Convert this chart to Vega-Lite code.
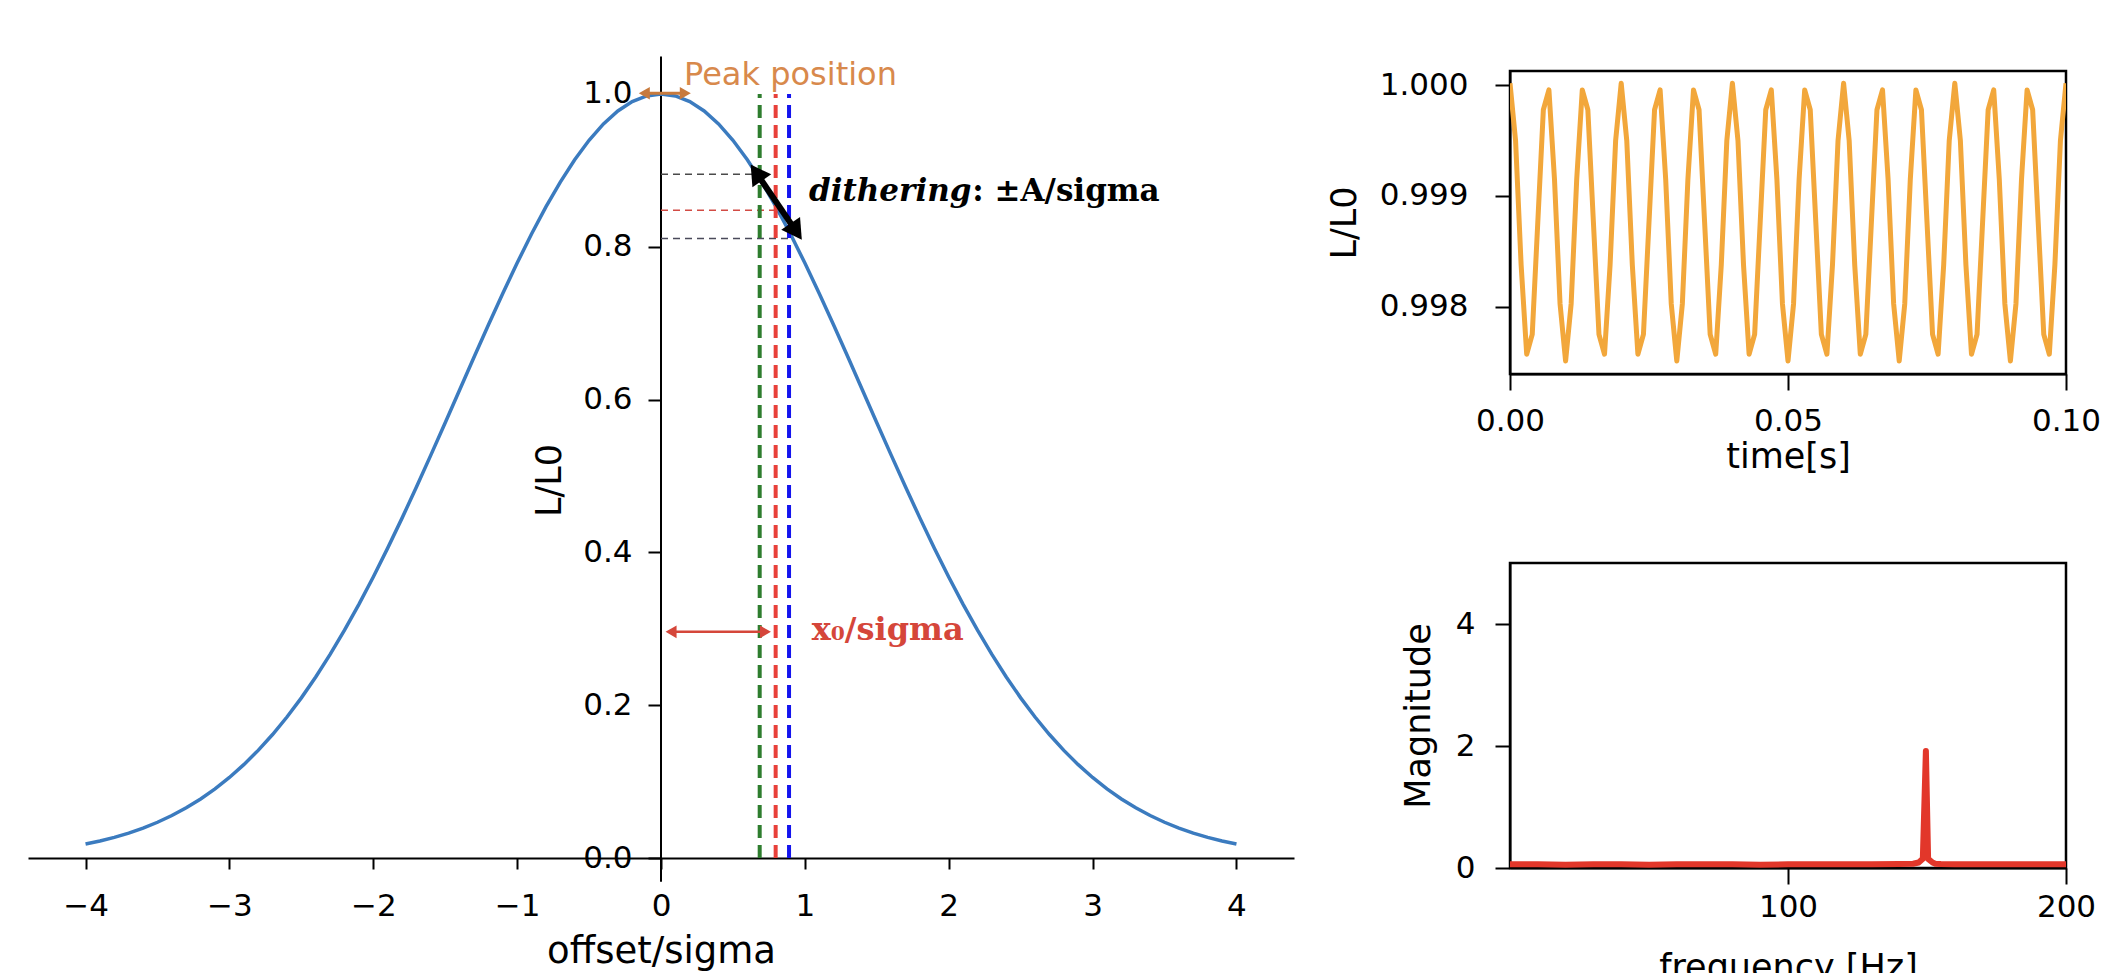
{
  "$schema": "https://vega.github.io/schema/vega-lite/v6.json",
  "background": "white",
  "padding": {"left": 28, "top": 55, "right": 5, "bottom": 5},
  "config": {
    "font": "DejaVu Sans",
    "view": {"stroke": "black", "strokeWidth": 2.5},
    "axis": {
      "grid": false,
      "domainColor": "black",
      "domainWidth": 2,
      "tickColor": "black",
      "tickWidth": 2,
      "tickSize": 11,
      "labelColor": "black",
      "labelFont": "DejaVu Sans",
      "labelFontSize": 31,
      "labelPadding": 12,
      "labelFlush": false,
      "labelOverlap": false,
      "titleColor": "black",
      "titleFont": "DejaVu Sans",
      "titleFontSize": 35,
      "titleFontWeight": "normal",
      "titlePadding": 14
    }
  },
  "bounds": "flush",
  "spacing": 216,
  "hconcat": [
    {
      "width": 1266,
      "height": 787,
      "view": {"stroke": null},
      "layer": [
        {
          "data": {"values": [{"x": 0, "y": -0.031, "y2": 1.049}]},
          "mark": {"type": "rule", "color": "black", "strokeWidth": 2},
          "encoding": {
            "x": {"field": "x", "type": "quantitative",
              "scale": {"domain": [-4.4, 4.4], "nice": false, "zero": false},
              "axis": {"title": "offset/sigma", "values": [-4, -3, -2, -1, 0, 1, 2, 3, 4], "format": "d", "labelPadding": 22, "titlePadding": 12, "titleFontSize": 37}},
            "y": {"field": "y", "type": "quantitative",
              "scale": {"domain": [0, 1.0301], "nice": false, "zero": false},
              "axis": {"title": "L/L0", "offset": -633, "domain": false, "values": [0, 0.2, 0.4, 0.6, 0.8, 1.0], "format": ".1f", "tickSize": 13, "labelPadding": 16, "titleX": -94, "titleY": 409, "titleAngle": 270, "titleBaseline": "bottom", "titleAlign": "center"}},
            "y2": {"field": "y2"}
          }
        },
        {
          "data": {"values": [
            {"x": -4.0, "y": 0.018316}, {"x": -3.9, "y": 0.022315}, {"x": -3.8, "y": 0.027052}, {"x": -3.7, "y": 0.032631},
            {"x": -3.6, "y": 0.039164}, {"x": -3.5, "y": 0.046771}, {"x": -3.4, "y": 0.055576}, {"x": -3.3, "y": 0.065711},
            {"x": -3.2, "y": 0.077305}, {"x": -3.1, "y": 0.090491}, {"x": -3.0, "y": 0.105399}, {"x": -2.9, "y": 0.12215},
            {"x": -2.8, "y": 0.140858}, {"x": -2.7, "y": 0.161621}, {"x": -2.6, "y": 0.18452}, {"x": -2.5, "y": 0.209611},
            {"x": -2.4, "y": 0.236928}, {"x": -2.3, "y": 0.266468}, {"x": -2.2, "y": 0.298197}, {"x": -2.1, "y": 0.33204},
            {"x": -2.0, "y": 0.367879}, {"x": -1.9, "y": 0.405555}, {"x": -1.8, "y": 0.444858}, {"x": -1.7, "y": 0.485537},
            {"x": -1.6, "y": 0.527292}, {"x": -1.5, "y": 0.569783}, {"x": -1.4, "y": 0.612626}, {"x": -1.3, "y": 0.655406},
            {"x": -1.2, "y": 0.697676}, {"x": -1.1, "y": 0.738968}, {"x": -1.0, "y": 0.778801}, {"x": -0.9, "y": 0.816686},
            {"x": -0.8, "y": 0.852144}, {"x": -0.7, "y": 0.884706}, {"x": -0.6, "y": 0.913931}, {"x": -0.5, "y": 0.939413},
            {"x": -0.4, "y": 0.960789}, {"x": -0.3, "y": 0.977751}, {"x": -0.2, "y": 0.99005}, {"x": -0.1, "y": 0.997503},
            {"x": 0.0, "y": 1.0},
            {"x": 0.1, "y": 0.997503}, {"x": 0.2, "y": 0.99005}, {"x": 0.3, "y": 0.977751}, {"x": 0.4, "y": 0.960789},
            {"x": 0.5, "y": 0.939413}, {"x": 0.6, "y": 0.913931}, {"x": 0.7, "y": 0.884706}, {"x": 0.8, "y": 0.852144},
            {"x": 0.9, "y": 0.816686}, {"x": 1.0, "y": 0.778801}, {"x": 1.1, "y": 0.738968}, {"x": 1.2, "y": 0.697676},
            {"x": 1.3, "y": 0.655406}, {"x": 1.4, "y": 0.612626}, {"x": 1.5, "y": 0.569783}, {"x": 1.6, "y": 0.527292},
            {"x": 1.7, "y": 0.485537}, {"x": 1.8, "y": 0.444858}, {"x": 1.9, "y": 0.405555}, {"x": 2.0, "y": 0.367879},
            {"x": 2.1, "y": 0.33204}, {"x": 2.2, "y": 0.298197}, {"x": 2.3, "y": 0.266468}, {"x": 2.4, "y": 0.236928},
            {"x": 2.5, "y": 0.209611}, {"x": 2.6, "y": 0.18452}, {"x": 2.7, "y": 0.161621}, {"x": 2.8, "y": 0.140858},
            {"x": 2.9, "y": 0.12215}, {"x": 3.0, "y": 0.105399}, {"x": 3.1, "y": 0.090491}, {"x": 3.2, "y": 0.077305},
            {"x": 3.3, "y": 0.065711}, {"x": 3.4, "y": 0.055576}, {"x": 3.5, "y": 0.046771}, {"x": 3.6, "y": 0.039164},
            {"x": 3.7, "y": 0.032631}, {"x": 3.8, "y": 0.027052}, {"x": 3.9, "y": 0.022315}, {"x": 4.0, "y": 0.018316}
          ]},
          "mark": {"type": "line", "color": "#3b7bbf", "strokeWidth": 3.5},
          "encoding": {
            "x": {"field": "x", "type": "quantitative"},
            "y": {"field": "y", "type": "quantitative"}
          }
        },
        {
          "data": {"values": [{"x": 0, "x2": 0.686, "y": 0.895}]},
          "mark": {"type": "rule", "color": "#4a4a4a", "strokeWidth": 1.5, "strokeDash": [7, 5]},
          "encoding": {"x": {"field": "x", "type": "quantitative"}, "x2": {"field": "x2"}, "y": {"field": "y", "type": "quantitative"}}
        },
        {
          "data": {"values": [{"x": 0, "x2": 0.797, "y": 0.848}]},
          "mark": {"type": "rule", "color": "#d24b44", "strokeWidth": 1.5, "strokeDash": [7, 5]},
          "encoding": {"x": {"field": "x", "type": "quantitative"}, "x2": {"field": "x2"}, "y": {"field": "y", "type": "quantitative"}}
        },
        {
          "data": {"values": [{"x": 0, "x2": 0.89, "y": 0.811}]},
          "mark": {"type": "rule", "color": "#4a4a5a", "strokeWidth": 1.5, "strokeDash": [7, 5]},
          "encoding": {"x": {"field": "x", "type": "quantitative"}, "x2": {"field": "x2"}, "y": {"field": "y", "type": "quantitative"}}
        },
        {
          "data": {"values": [{"x": 0.686, "y": 0, "y2": 1.0}]},
          "mark": {"type": "rule", "color": "#2e7d2e", "strokeWidth": 4, "strokeDash": [13, 7]},
          "encoding": {"x": {"field": "x", "type": "quantitative"}, "y": {"field": "y", "type": "quantitative"}, "y2": {"field": "y2"}}
        },
        {
          "data": {"values": [{"x": 0.797, "y": 0, "y2": 1.0}]},
          "mark": {"type": "rule", "color": "#e8403a", "strokeWidth": 4, "strokeDash": [13, 7]},
          "encoding": {"x": {"field": "x", "type": "quantitative"}, "y": {"field": "y", "type": "quantitative"}, "y2": {"field": "y2"}}
        },
        {
          "data": {"values": [{"x": 0.89, "y": 0, "y2": 1.0}]},
          "mark": {"type": "rule", "color": "#1414ee", "strokeWidth": 4, "strokeDash": [13, 7]},
          "encoding": {"x": {"field": "x", "type": "quantitative"}, "y": {"field": "y", "type": "quantitative"}, "y2": {"field": "y2"}}
        },
        {
          "data": {"values": [{"x": 0.662, "y": 0.897, "x2": 0.94, "y2": 0.82}]},
          "mark": {"type": "rule", "color": "black", "strokeWidth": 6},
          "encoding": {"x": {"field": "x", "type": "quantitative"}, "y": {"field": "y", "type": "quantitative"}, "x2": {"field": "x2"}, "y2": {"field": "y2"}}
        },
        {
          "data": {"values": [{"x": 0.662, "y": 0.897}]},
          "mark": {"type": "point", "shape": "triangle-up", "filled": true, "color": "black", "opacity": 1, "size": 520, "angle": 325.5},
          "encoding": {"x": {"field": "x", "type": "quantitative"}, "y": {"field": "y", "type": "quantitative"}}
        },
        {
          "data": {"values": [{"x": 0.94, "y": 0.82}]},
          "mark": {"type": "point", "shape": "triangle-up", "filled": true, "color": "black", "opacity": 1, "size": 520, "angle": 145.5},
          "encoding": {"x": {"field": "x", "type": "quantitative"}, "y": {"field": "y", "type": "quantitative"}}
        },
        {
          "data": {"values": [{"x": -0.116, "x2": 0.169, "y": 1.001}]},
          "mark": {"type": "rule", "color": "#c87a3c", "strokeWidth": 3},
          "encoding": {"x": {"field": "x", "type": "quantitative"}, "x2": {"field": "x2"}, "y": {"field": "y", "type": "quantitative"}}
        },
        {
          "data": {"values": [{"x": -0.116, "y": 1.001}]},
          "mark": {"type": "point", "shape": "triangle-left", "filled": true, "color": "#c87a3c", "opacity": 1, "size": 160},
          "encoding": {"x": {"field": "x", "type": "quantitative"}, "y": {"field": "y", "type": "quantitative"}}
        },
        {
          "data": {"values": [{"x": 0.169, "y": 1.001}]},
          "mark": {"type": "point", "shape": "triangle-right", "filled": true, "color": "#c87a3c", "opacity": 1, "size": 160},
          "encoding": {"x": {"field": "x", "type": "quantitative"}, "y": {"field": "y", "type": "quantitative"}}
        },
        {
          "data": {"values": [{"x": 0.07, "x2": 0.726, "y": 0.296}]},
          "mark": {"type": "rule", "color": "#d5463a", "strokeWidth": 2.5},
          "encoding": {"x": {"field": "x", "type": "quantitative"}, "x2": {"field": "x2"}, "y": {"field": "y", "type": "quantitative"}}
        },
        {
          "data": {"values": [{"x": 0.07, "y": 0.296}]},
          "mark": {"type": "point", "shape": "triangle-left", "filled": true, "color": "#d5463a", "opacity": 1, "size": 160},
          "encoding": {"x": {"field": "x", "type": "quantitative"}, "y": {"field": "y", "type": "quantitative"}}
        },
        {
          "data": {"values": [{"x": 0.726, "y": 0.296}]},
          "mark": {"type": "point", "shape": "triangle-right", "filled": true, "color": "#d5463a", "opacity": 1, "size": 160},
          "encoding": {"x": {"field": "x", "type": "quantitative"}, "y": {"field": "y", "type": "quantitative"}}
        },
        {
          "data": {"values": [{"x": 0.16, "y": 1.012}]},
          "mark": {"type": "text", "text": "Peak position", "align": "left", "baseline": "alphabetic", "font": "DejaVu Sans", "fontSize": 32, "color": "#d8894c"},
          "encoding": {"x": {"field": "x", "type": "quantitative"}, "y": {"field": "y", "type": "quantitative"}}
        },
        {
          "data": {"values": [{"x": 1.029, "y": 0.86}]},
          "mark": {"type": "text", "text": "dithering", "align": "left", "baseline": "alphabetic", "font": "DejaVu Serif", "fontSize": 31, "fontWeight": "bold", "fontStyle": "italic", "color": "black"},
          "encoding": {"x": {"field": "x", "type": "quantitative"}, "y": {"field": "y", "type": "quantitative"}}
        },
        {
          "data": {"values": [{"x": 2.164, "y": 0.86}]},
          "mark": {"type": "text", "text": ": ±A/sigma", "align": "left", "baseline": "alphabetic", "font": "DejaVu Serif", "fontSize": 31, "fontWeight": "bold", "color": "black"},
          "encoding": {"x": {"field": "x", "type": "quantitative"}, "y": {"field": "y", "type": "quantitative"}}
        },
        {
          "data": {"values": [{"x": 1.048, "y": 0.285}]},
          "mark": {"type": "text", "text": "x₀/sigma", "align": "left", "baseline": "alphabetic", "font": "DejaVu Serif", "fontSize": 32, "fontWeight": "bold", "color": "#d5463a"},
          "encoding": {"x": {"field": "x", "type": "quantitative"}, "y": {"field": "y", "type": "quantitative"}}
        }
      ]
    },
    {
      "bounds": "flush",
      "spacing": 189,
      "vconcat": [
        {
          "width": 556,
          "height": 303,
          "data": {"values": [
            {"t": 0.000, "v": 1.00002}, {"t": 0.001, "v": 0.999502}, {"t": 0.002, "v": 0.998376}, {"t": 0.003, "v": 0.997569}, {"t": 0.004, "v": 0.997748},
            {"t": 0.005, "v": 0.998764}, {"t": 0.006, "v": 0.99978}, {"t": 0.007, "v": 0.999959}, {"t": 0.008, "v": 0.999152}, {"t": 0.009, "v": 0.998026},
            {"t": 0.010, "v": 0.997508}, {"t": 0.011, "v": 0.998026}, {"t": 0.012, "v": 0.999152}, {"t": 0.013, "v": 0.999959}, {"t": 0.014, "v": 0.99978},
            {"t": 0.015, "v": 0.998764}, {"t": 0.016, "v": 0.997748}, {"t": 0.017, "v": 0.997569}, {"t": 0.018, "v": 0.998376}, {"t": 0.019, "v": 0.999502},
            {"t": 0.020, "v": 1.00002}, {"t": 0.021, "v": 0.999502}, {"t": 0.022, "v": 0.998376}, {"t": 0.023, "v": 0.997569}, {"t": 0.024, "v": 0.997748},
            {"t": 0.025, "v": 0.998764}, {"t": 0.026, "v": 0.99978}, {"t": 0.027, "v": 0.999959}, {"t": 0.028, "v": 0.999152}, {"t": 0.029, "v": 0.998026},
            {"t": 0.030, "v": 0.997508}, {"t": 0.031, "v": 0.998026}, {"t": 0.032, "v": 0.999152}, {"t": 0.033, "v": 0.999959}, {"t": 0.034, "v": 0.99978},
            {"t": 0.035, "v": 0.998764}, {"t": 0.036, "v": 0.997748}, {"t": 0.037, "v": 0.997569}, {"t": 0.038, "v": 0.998376}, {"t": 0.039, "v": 0.999502},
            {"t": 0.040, "v": 1.00002}, {"t": 0.041, "v": 0.999502}, {"t": 0.042, "v": 0.998376}, {"t": 0.043, "v": 0.997569}, {"t": 0.044, "v": 0.997748},
            {"t": 0.045, "v": 0.998764}, {"t": 0.046, "v": 0.99978}, {"t": 0.047, "v": 0.999959}, {"t": 0.048, "v": 0.999152}, {"t": 0.049, "v": 0.998026},
            {"t": 0.050, "v": 0.997508}, {"t": 0.051, "v": 0.998026}, {"t": 0.052, "v": 0.999152}, {"t": 0.053, "v": 0.999959}, {"t": 0.054, "v": 0.99978},
            {"t": 0.055, "v": 0.998764}, {"t": 0.056, "v": 0.997748}, {"t": 0.057, "v": 0.997569}, {"t": 0.058, "v": 0.998376}, {"t": 0.059, "v": 0.999502},
            {"t": 0.060, "v": 1.00002}, {"t": 0.061, "v": 0.999502}, {"t": 0.062, "v": 0.998376}, {"t": 0.063, "v": 0.997569}, {"t": 0.064, "v": 0.997748},
            {"t": 0.065, "v": 0.998764}, {"t": 0.066, "v": 0.99978}, {"t": 0.067, "v": 0.999959}, {"t": 0.068, "v": 0.999152}, {"t": 0.069, "v": 0.998026},
            {"t": 0.070, "v": 0.997508}, {"t": 0.071, "v": 0.998026}, {"t": 0.072, "v": 0.999152}, {"t": 0.073, "v": 0.999959}, {"t": 0.074, "v": 0.99978},
            {"t": 0.075, "v": 0.998764}, {"t": 0.076, "v": 0.997748}, {"t": 0.077, "v": 0.997569}, {"t": 0.078, "v": 0.998376}, {"t": 0.079, "v": 0.999502},
            {"t": 0.080, "v": 1.00002}, {"t": 0.081, "v": 0.999502}, {"t": 0.082, "v": 0.998376}, {"t": 0.083, "v": 0.997569}, {"t": 0.084, "v": 0.997748},
            {"t": 0.085, "v": 0.998764}, {"t": 0.086, "v": 0.99978}, {"t": 0.087, "v": 0.999959}, {"t": 0.088, "v": 0.999152}, {"t": 0.089, "v": 0.998026},
            {"t": 0.090, "v": 0.997508}, {"t": 0.091, "v": 0.998026}, {"t": 0.092, "v": 0.999152}, {"t": 0.093, "v": 0.999959}, {"t": 0.094, "v": 0.99978},
            {"t": 0.095, "v": 0.998764}, {"t": 0.096, "v": 0.997748}, {"t": 0.097, "v": 0.997569}, {"t": 0.098, "v": 0.998376}, {"t": 0.099, "v": 0.999502},
            {"t": 0.100, "v": 1.00002}
          ]},
          "mark": {"type": "line", "color": "#f2a73b", "strokeWidth": 5, "clip": true, "strokeJoin": "round"},
          "encoding": {
            "x": {"field": "t", "type": "quantitative",
              "scale": {"domain": [0, 0.1], "nice": false, "zero": false},
              "axis": {"title": "time[s]", "values": [0, 0.05, 0.1], "format": ".2f", "tickSize": 16, "labelPadding": 16, "titlePadding": 3}},
            "y": {"field": "v", "type": "quantitative",
              "scale": {"domain": [0.99739, 1.00013], "nice": false, "zero": false},
              "axis": {"title": "L/L0", "values": [0.998, 0.999, 1.0], "format": ".3f", "tickSize": 15, "labelPadding": 27, "titlePadding": 17}}
          }
        },
        {
          "width": 556,
          "height": 305,
          "data": {"values": [
            {"f": 0, "m": 0.06}, {"f": 10, "m": 0.06}, {"f": 20, "m": 0.055}, {"f": 30, "m": 0.06}, {"f": 40, "m": 0.06},
            {"f": 50, "m": 0.055}, {"f": 60, "m": 0.06}, {"f": 70, "m": 0.06}, {"f": 80, "m": 0.06}, {"f": 90, "m": 0.055},
            {"f": 100, "m": 0.06}, {"f": 110, "m": 0.06}, {"f": 120, "m": 0.06}, {"f": 130, "m": 0.06}, {"f": 140, "m": 0.065},
            {"f": 145, "m": 0.07}, {"f": 147, "m": 0.09}, {"f": 148.5, "m": 0.15}, {"f": 149.6, "m": 1.92}, {"f": 150.4, "m": 0.15},
            {"f": 152, "m": 0.09}, {"f": 153, "m": 0.07}, {"f": 155, "m": 0.065}, {"f": 160, "m": 0.06}, {"f": 170, "m": 0.06},
            {"f": 180, "m": 0.06}, {"f": 190, "m": 0.06}, {"f": 200, "m": 0.06}
          ]},
          "mark": {"type": "line", "color": "#e2372a", "strokeWidth": 6, "clip": true, "strokeJoin": "round", "strokeCap": "round"},
          "encoding": {
            "x": {"field": "f", "type": "quantitative",
              "scale": {"domain": [0, 200], "nice": false, "zero": false},
              "axis": {"title": "frequency [Hz]", "values": [100, 200], "format": "d", "tickSize": 16, "labelPadding": 8, "titlePadding": 28}},
            "y": {"field": "m", "type": "quantitative",
              "scale": {"domain": [0, 5], "nice": false, "zero": false},
              "axis": {"title": "Magnitude", "values": [0, 2, 4], "format": "d", "tickSize": 15, "labelPadding": 20, "titlePadding": 19}}
          }
        }
      ]
    }
  ]
}
